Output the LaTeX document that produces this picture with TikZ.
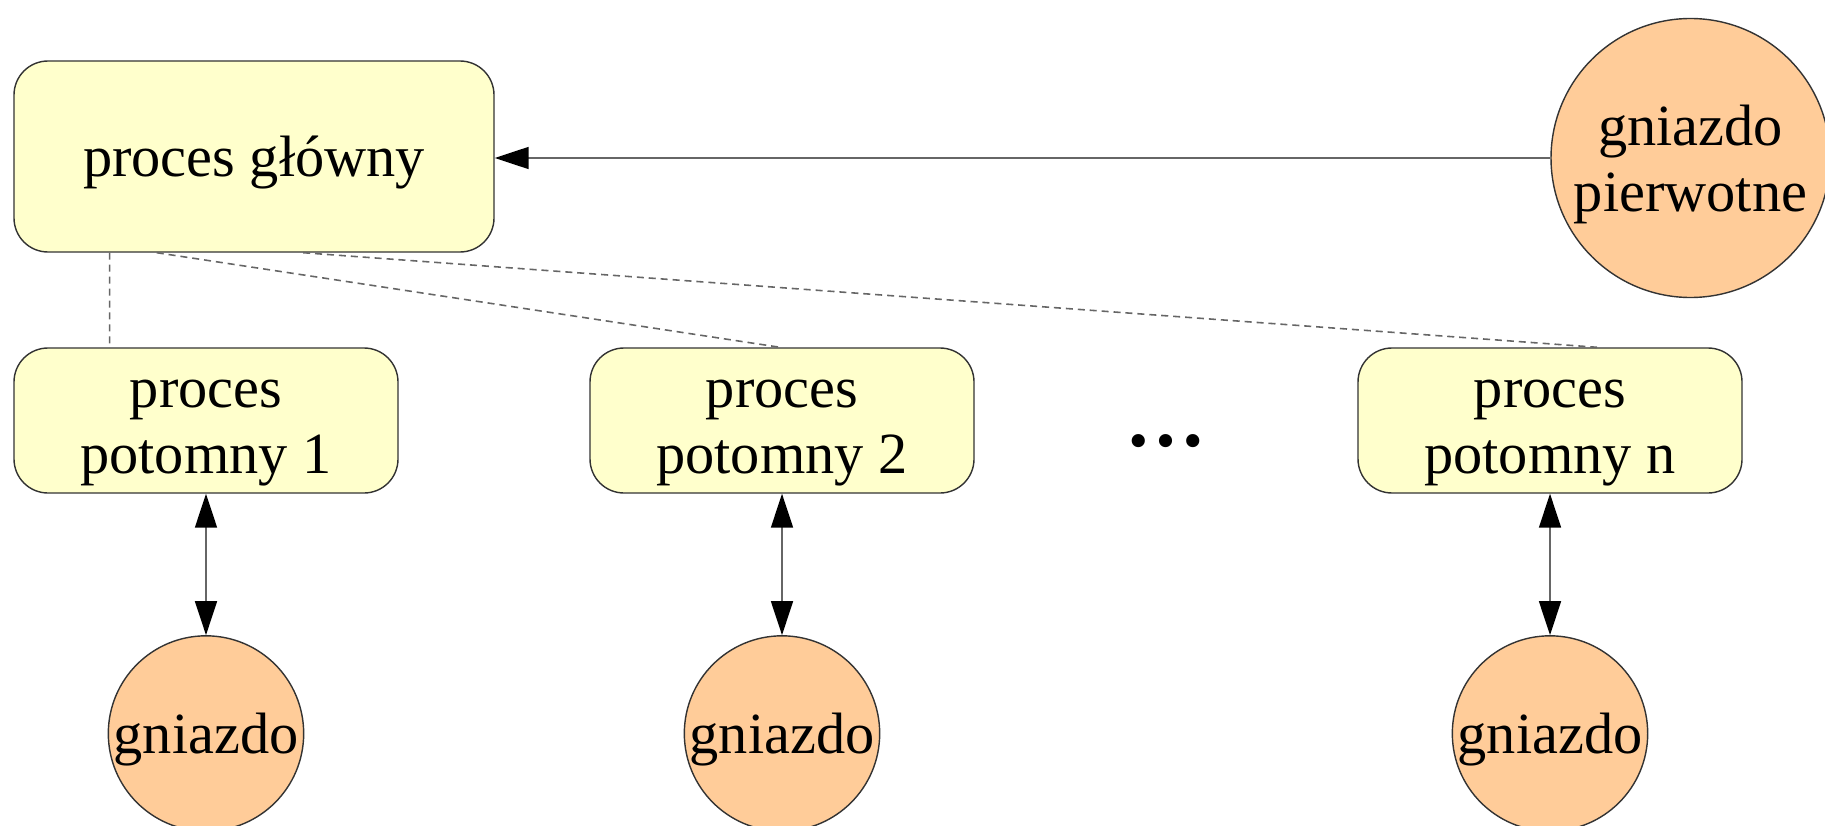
\documentclass[tikz,border=0pt]{standalone}
\usepackage{fontspec}
\setmainfont{Liberation Serif}
\usetikzlibrary{arrows.meta,calc}

\definecolor{procfill}{HTML}{FFFFCC}
\definecolor{sockfill}{HTML}{FFCC99}
\definecolor{linegray}{HTML}{666666}

% invisible strut for the first text line
\newcommand{\firstln}{\rule{0pt}{0.53cm}}

\tikzstyle{proc} = [draw=black!80,fill=procfill,rounded corners=0.34cm,align=center,inner sep=0pt,font=\fontsize{16.6}{18.7}\selectfont]
\tikzstyle{sock} = [circle,draw=black!80,fill=sockfill,align=center,inner sep=0pt,font=\fontsize{16.6}{18.7}\selectfont]
\tikzstyle{link} = [draw,linegray,line width=0.45pt,dash pattern=on 2pt off 1.4pt]
\tikzstyle{tipdecorate} = [line width=0.45pt,linegray]
\tikzstyle{onearrow} = [tipdecorate,-{Triangle[length=0.34cm,width=0.22cm,color=black]}]
\tikzstyle{twoarrow} = [tipdecorate,{Triangle[length=0.34cm,width=0.22cm,color=black]}-{Triangle[length=0.34cm,width=0.22cm,color=black]}]

\begin{document}
\begin{tikzpicture}
    \useasboundingbox (0,0) rectangle (18.25,-8.26);
    %% main process and primary socket
    \node[proc, minimum width=4.80cm, minimum height=1.91cm] (main) at (2.54,-1.565) {\firstln proces główny};
    \node[sock, minimum size=2.79cm] (gp) at (16.905,-1.58) {\firstln gniazdo\\pierwotne};
    %% child processes and their sockets
    \foreach \nodename/\num/\x in {
      c1/1/2.06,
      c2/2/7.82,
      cn/n/15.50}
    {
      \node[proc, minimum width=3.84cm, minimum height=1.45cm] (\nodename) at (\x,-4.205) {\firstln proces\\potomny \num};
      \node[sock, minimum size=1.93cm] (s\nodename) at (\x,-7.335) {\firstln gniazdo};
    }
    \node[anchor=base, font=\bfseries\fontsize{23}{23}\selectfont] (dots) at (11.66,-4.46) {…};
    %dashed links
    \path
    \foreach \from/\childnode/\to in {
      0.2/c1/0.25, 0.298/c2/0.495, 0.602/cn/0.622}
    {
      ($(main.south west)!\from!(main.south east)$) edge[link] ($(\childnode.north west)!\to!(\childnode.north east)$)
    };
    %arrows
    \path
    \foreach \nodename in {c1, c2, cn}
    {
      (\nodename) edge[twoarrow] (s\nodename)
    };
    \draw[onearrow] (gp.west) -- (main.east |- gp.west);
\end{tikzpicture}
\end{document}
